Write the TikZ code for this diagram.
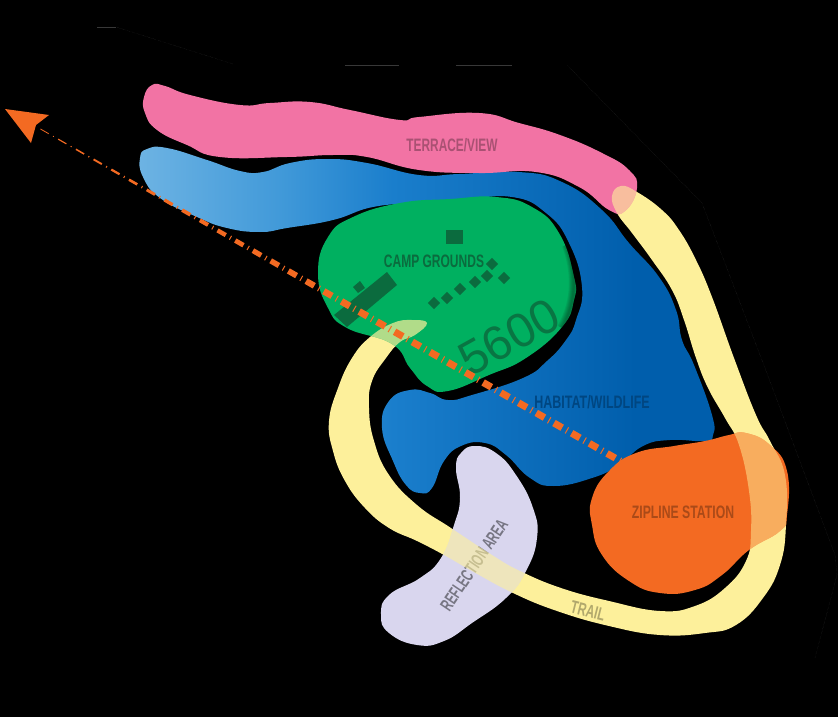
\documentclass[tikz,border=0pt]{standalone}
\usepackage{fontspec}
\setmainfont{Liberation Sans}
\usetikzlibrary{calc}
\definecolor{cPink}{HTML}{F273A4}
\definecolor{cGreen}{HTML}{00B060}
\definecolor{cDark}{HTML}{0B6B3E}
\definecolor{cTrail}{HTML}{FDF09B}
\definecolor{cOrange}{HTML}{F36A22}
\definecolor{cLav}{HTML}{D9D6EE}
\definecolor{bA}{HTML}{6DB3E3}
\definecolor{bB}{HTML}{429AD9}
\definecolor{bC}{HTML}{1A7ECC}
\definecolor{bD}{HTML}{005EAC}
\pgfdeclarehorizontalshading{blues}{100bp}{color(0bp)=(bA); color(25bp)=(bA); color(37bp)=(bB); color(47bp)=(bC); color(68bp)=(bD); color(100bp)=(bD)}
\newcommand{\pPink}{plot[smooth cycle,tension=.8] coordinates{(152,85)(165,86)(190,95)(240,105)(270,103)(310,102)(350,110)(400,120)(419,117)(479,113)(519,123)(560,135)(602,153)(629,170)(637,188)(625,211)(609,210)(579,187)(536,172)(479,173)(419,170)(367,157)(333,155)(287,157)(220,157)(187,145)(157,130)(145,113)(144,97)}}
\newcommand{\pBlue}{plot[smooth cycle,tension=.8] coordinates{(140,158)(147,149)(167,148)(207,160)(240,171)(263,172)(290,163)(327,159)(367,163)(419,175)(459,174)(519,172)(562,182)(602,210)(629,243)(659,277)(676,310)(682,340)(694,365)(712,415)(713,435)(705,441)(670,440)(643,446)(619,465)(592,478)(554,486)(530,478)(506,455)(485,443)(461,446)(444,461)(432,488)(420,493)(406,485)(393,461)(382,428)(389,401)(410,390)(430,393)(448,400)(472,395)(523,378)(547,361)(566,340)(576,320)(582,287)(569,243)(546,213)(512,197)(462,200)(419,203)(373,207)(333,220)(287,228)(260,232)(227,228)(197,217)(160,198)(143,177)}}
\newcommand{\pGreen}{plot[smooth cycle,tension=.8] coordinates{(496,197)(532,207)(559,233)(574,277)(574,300)(562,327)(526,358)(489,375)(448,391)(427,386)(410,368)(392,344)(347,328)(328,308)(318,273)(328,237)(353,217)(400,203)(450,199)}}
\newcommand{\pTrail}{plot[smooth cycle,tension=.75] coordinates{(621,186)(637,192)(662,210)(679,230)(696,260)(712,297)(734,358)(756,415)(770,441)(785,475)(786,525)(780,565)(763,598)(736,625)(705,633)(660,635)(609,626)(557,611)(513,593)(472,571)(444,555)(417,541)(389,528)(365,508)(345,481)(333,451)(329,421)(338,388)(352,358)(370,337)(393,323)(412,320)(427,323)(415,335)(400,342)(386,358)(372,381)(369,408)(374,441)(389,475)(417,505)(451,528)(492,555)(520,571)(561,588)(609,601)(660,611)(695,606)(725,588)(746,561)(751,531)(749,491)(739,445)(725,418)(708,388)(696,358)(684,320)(672,290)(652,260)(632,233)(617,213)(612,196)}}
\newcommand{\pZip}{plot[smooth cycle,tension=.8] coordinates{(729,435)(746,433)(770,445)(787,471)(787,515)(780,531)(749,550)(722,575)(695,590)(660,593)(629,581)(602,555)(592,525)(592,498)(609,471)(636,453)(674,446)(705,441)}}
\newcommand{\pRefl}{plot[smooth cycle,tension=.8] coordinates{(475,446)(496,453)(516,475)(533,508)(537,538)(526,571)(506,598)(472,623)(444,641)(417,645)(389,633)(381,615)(389,595)(420,578)(441,558)(454,525)(460,498)(456,468)(461,453)}}
\tikzset{
  lab/.style={font=\bfseries\fontsize{18}{18}\selectfont,inner sep=0pt},
  hair/.style={draw=black!78!white,line width=.3pt},
  dia/.style={fill=cDark,draw=none,shape=rectangle,minimum size=8.5pt,inner sep=0pt,rotate=45},
}
\begin{document}
\begin{tikzpicture}[x=1pt,y=-1pt]
\useasboundingbox (0,0) rectangle (838,717);
\fill[black] (0,0) rectangle (838,717);
% faint site boundary
\draw[hair] (97,27)--(116,27);
\draw[hair,densely dotted] (116,27)--(233,64);
\draw[hair] (345,65)--(399,65) (456,65)--(512,65);
\draw[hair,densely dotted] (567,65)--(702,203)--(765,368)--(835,555)--(837,575)--(815,658);
% areas
\shade[shading=blues] \pBlue;
\fill[cTrail] \pTrail;
\fill[cPink] \pPink;
\fill[cGreen] \pGreen;
\begin{scope}
\clip \pGreen;
\foreach \w in {2,4,6,8,10}{
  \draw[black,opacity=.08,line width=\w pt] (567,245)..controls (576,270) and (578,300)..(562,328);
}
\end{scope}
\fill[cLav] \pRefl;
\node[lab,text=cLav!55!black,rotate=56,xscale=.62] (reflection) at (474,565) {REFLECTION AREA};
\fill[cOrange] \pZip;
% trail seen through
\begin{scope}\clip \pPink; \fill[cTrail,opacity=.6] \pTrail; \end{scope}
\begin{scope}\clip \pGreen; \fill[cTrail,opacity=.7] \pTrail; \end{scope}
\begin{scope}\clip \pRefl; \fill[cTrail,opacity=.6] \pTrail; \end{scope}
\begin{scope}\clip \pZip; \fill[cTrail,opacity=.5] \pTrail; \end{scope}
% buildings
\fill[cDark] (387,272)--(397,285)--(347,327)--(334,315)--cycle;
\fill[cDark] (353,287)--(360,281)--(365,288)--(358,293)--cycle;
\fill[cDark] (446,230) rectangle (463,244);
\foreach \p/\n in {{(492,264)}/a,{(504,278)}/b,{(487,276)}/c,{(475,282)}/d,{(460,289)}/e,{(447,298)}/f,{(434,303)}/g}{
  \node[dia] (dia\n) at \p {};
}
% labels
\node[lab,text=cDark,xscale=.667] (camp) at (434,261) {CAMP GROUNDS};
\node[lab,text=cPink!70!black,xscale=.66] (terrace) at (452,145) {TERRACE/VIEW};
\node[lab,text=bD!75!black,xscale=.694] (habitat) at (592,402) {HABITAT/WILDLIFE};
\node[lab,text=cOrange!70!black,xscale=.68] (zipline) at (683,512) {ZIPLINE STATION};
\node[lab,text=cTrail!70!black,rotate=-14,xscale=.66] (trail) at (588,611) {TRAIL};
\node[font=\fontsize{48}{48}\selectfont,text=cDark!85!cGreen,inner sep=0pt,rotate=29] (alt) at (509,337) {5600};
% view axis
\coordinate (axA) at (37,127);
\coordinate (axB) at (622,462);
\foreach \i in {0,...,32}{
  \pgfmathsetmacro{\wid}{min(7,.8+.36*\i)}
  \pgfmathsetmacro{\ta}{(4+20.4*\i)/674}
  \pgfmathsetmacro{\tb}{(13.5+20.4*\i)/674}
  \pgfmathsetmacro{\tc}{(18.4+20.4*\i)/674}
  \pgfmathsetmacro{\td}{(19.4+20.4*\i)/674}
  \draw[cOrange,line width=\wid pt] ($(axA)!\ta!(axB)$)--($(axA)!\tb!(axB)$);
  \draw[cOrange,line width=\wid pt] ($(axA)!\tc!(axB)$)--($(axA)!\td!(axB)$);
}
\coordinate (hdTip) at (5,109);
\fill[cOrange] (hdTip)--(49,115)--(36,125)--(31,143)--cycle;
\end{tikzpicture}
\end{document}
